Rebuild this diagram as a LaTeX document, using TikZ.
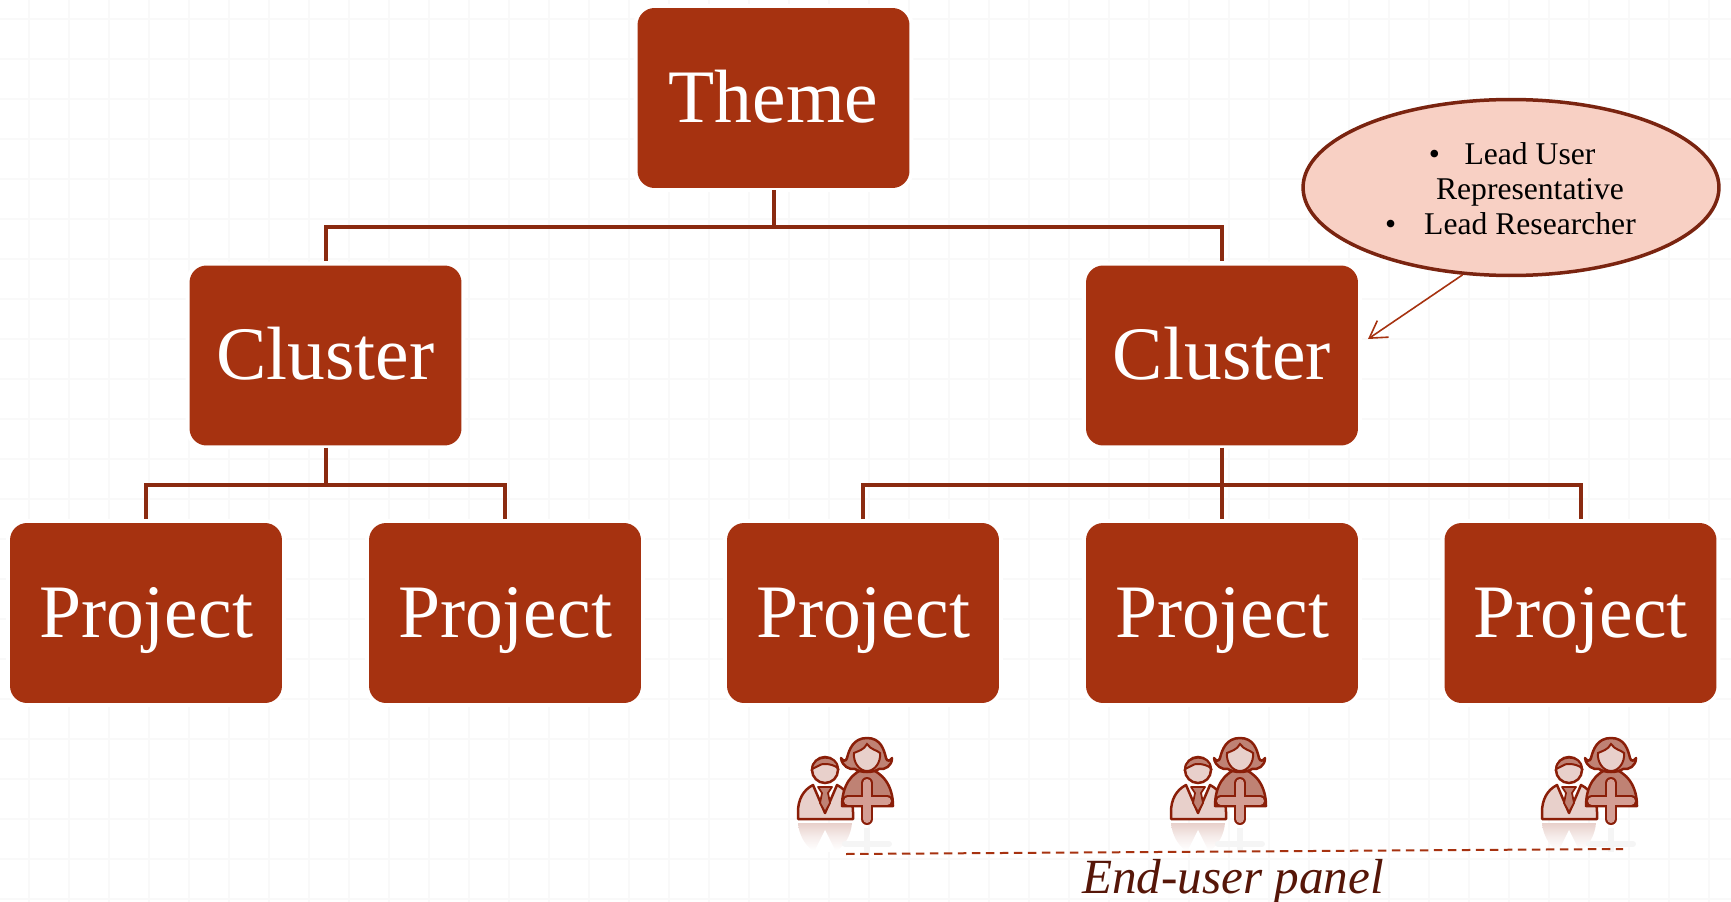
\documentclass[tikz,border=0pt]{standalone}
\usepackage{fontspec}
\usetikzlibrary{shapes.geometric,arrows.meta}
\setmainfont{Liberation Serif}
\definecolor{boxred}{HTML}{A63210}
\definecolor{linkred}{HTML}{8A2A10}
\definecolor{edgered}{HTML}{7A2410}
\definecolor{paneltext}{HTML}{561608}
\definecolor{iconline}{HTML}{8A1E08}
\definecolor{iconlight}{HTML}{E8D0CB}
\definecolor{iconmid}{HTML}{BF8274}
\definecolor{iconplus}{HTML}{D49E94}
\definecolor{calloutfill}{HTML}{F8D0C4}
\definecolor{gridgrey}{HTML}{F9F9F9}
\tikzset{
  orgbox/.style={fill=boxred,text=white,rounded corners=0.34cm,minimum width=5.44cm,minimum height=3.6cm,inner sep=0pt,
    font=\fontsize{43}{46}\selectfont,text height=32.5pt,text depth=5pt,preaction={draw=white,line width=0.16cm}},
  link/.style={draw=linkred,line width=0.08cm},
  thin arrow/.style={draw=boxred,line width=0.032cm,-{Straight Barb[length=0.33cm,width=0.4cm]}},
  panelperson/.pic={
    % reflection
    \path[top color=iconlight,bottom color=white,middle color=iconlight!40] (-27,53) -- (27,53) .. controls (26,65) and (20,75) .. (13,80) -- (-13,80) .. controls (-20,75) and (-26,65) .. (-27,53) -- cycle;
    \fill[white] (0,60) -- (-11,82) -- (11,82) -- cycle;
    \draw[white!96!black,line width=0.12cm,line cap=round] (20,74) -- (64,74);
    \draw[white!96!black,line width=0.12cm] (42,58) -- (42,82);
    % man
    \draw[iconline,fill=iconlight,line width=0.05cm,line join=round] (-27,49) -- (-27,42) .. controls (-27,30) and (-22,20) .. (-12,15) -- (0,43) -- (12,15) .. controls (22,20) and (28,30) .. (28,42) -- (28,49) -- cycle;
    \draw[iconline,fill=iconmid,line width=0.035cm,line join=round] (-7,17) -- (7,17) -- (3,23) -- (5,33) -- (0,42) -- (-5,33) -- (-3,23) -- cycle;
    \draw[iconline,fill=iconlight,line width=0.05cm] (0,0) circle (13);
    \draw[iconline,fill=iconmid,line width=0.04cm] (-13,-1) .. controls (-12,-16) and (12,-16) .. (13,-2) .. controls (6,-7) and (-4,-7) .. (-7,-4) .. controls (-9,-3) and (-11,-2) .. (-13,-1) -- cycle;
    % woman
    \draw[iconline,fill=iconmid,line width=0.05cm,line join=round] (17,36) .. controls (17,16) and (26,2) .. (42,-2) .. controls (58,2) and (68,16) .. (68,36) -- cycle;
    \draw[iconline,fill=iconmid,line width=0.05cm,line join=round] (42,-32) .. controls (28,-32) and (24,-20) .. (22,-12) .. controls (21,-8) and (18,-9) .. (16,-12) .. controls (17,-4) and (24,0) .. (30,-1) .. controls (36,3) and (48,3) .. (54,-1) .. controls (60,0) and (67,-4) .. (67,-12) .. controls (65,-9) and (62,-8) .. (61,-12) .. controls (59,-20) and (56,-32) .. (42,-32) -- cycle;
    \draw[iconline,fill=iconlight,line width=0.04cm] (42,-26) .. controls (46,-20) and (52,-20) .. (55,-17) .. controls (56,-8) and (50,1) .. (42,1) .. controls (34,1) and (28,-8) .. (29,-17) .. controls (33,-19) and (39,-20) .. (42,-26) -- cycle;
    % plus
    \draw[iconline,line width=0.24cm,line cap=round] (42,13) -- (42,49);
    \draw[iconline,line width=0.24cm,line cap=round] (23,31) -- (62,31);
    \draw[iconplus,line width=0.16cm,line cap=round] (42,13) -- (42,49);
    \draw[iconplus,line width=0.16cm,line cap=round] (23,31) -- (62,31);
  }
}
\begin{document}
\begin{tikzpicture}[x=0.02cm,y=-0.02cm]
\useasboundingbox (0,0) rectangle (1731,902);

% faint grid behind everything
\foreach \gx in {29,69,...,1709} \draw[gridgrey,line width=0.04cm] (\gx,0)--(\gx,902);
\foreach \gy in {19,59,...,899} \draw[gridgrey,line width=0.04cm] (0,\gy)--(1731,\gy);

\node[orgbox] (theme) at (773.5,98) {Theme};
\node[orgbox] (c1) at (325.5,355.5) {Cluster};
\node[orgbox] (c2) at (1222,355.5) {Cluster};
\node[orgbox] (p1) at (146,613) {Project};
\node[orgbox] (p2) at (505,613) {Project};
\node[orgbox] (p3) at (863,613) {Project};
\node[orgbox] (p4) at (1222,613) {Project};
\node[orgbox] (p5) at (1580.5,613) {Project};

\draw[link,shorten <=0.04cm,shorten >=0.08cm] (theme.south) -- ++(0,38.5) -| (c1.north);
\draw[link,shorten <=0.04cm,shorten >=0.08cm] (theme.south) -- ++(0,38.5) -| (c2.north);
\draw[link,shorten <=0.04cm,shorten >=0.08cm] (c1.south) -- ++(0,39) -| (p1.north);
\draw[link,shorten <=0.04cm,shorten >=0.08cm] (c1.south) -- ++(0,39) -| (p2.north);
\draw[link,shorten <=0.04cm,shorten >=0.08cm] (c2.south) -- ++(0,39) -| (p3.north);
\draw[link,shorten <=0.04cm,shorten >=0.08cm] (c2.south) -- (p4.north);
\draw[link,shorten <=0.04cm,shorten >=0.08cm] (c2.south) -- ++(0,39) -| (p5.north);

\node[ellipse,draw=edgered,fill=calloutfill,line width=0.07cm,minimum width=8.32cm,minimum height=3.52cm,inner sep=0pt] (callout) at (1511,187.5) {};
\node[align=center,font=\fontsize{18}{19.85}\selectfont] (leads) at (1530,189) {\llap{\textbullet\hspace{14pt}}Lead User\\Representative\\\llap{\textbullet\hspace{16pt}}Lead Researcher};
\node[coordinate] (tip) at (1368,339) {};
\draw[thin arrow] (callout.241) -- (tip);

\pic (u1) at (825,770) {panelperson};
\pic (u2) at (1198,770) {panelperson};
\pic (u3) at (1569,770) {panelperson};

\node[coordinate] (d1) at (846,854) {};
\node[coordinate] (d2) at (1623,849) {};
\draw[boxred,line width=0.04cm,dash pattern=on 0.17cm off 0.11cm] (d1)--(d2);
\node[font=\fontsize{28}{32}\itshape\selectfont,text=paneltext,text height=20pt,text depth=7pt] (panel) at (1233,882) {End-user panel};
\end{tikzpicture}
\end{document}
